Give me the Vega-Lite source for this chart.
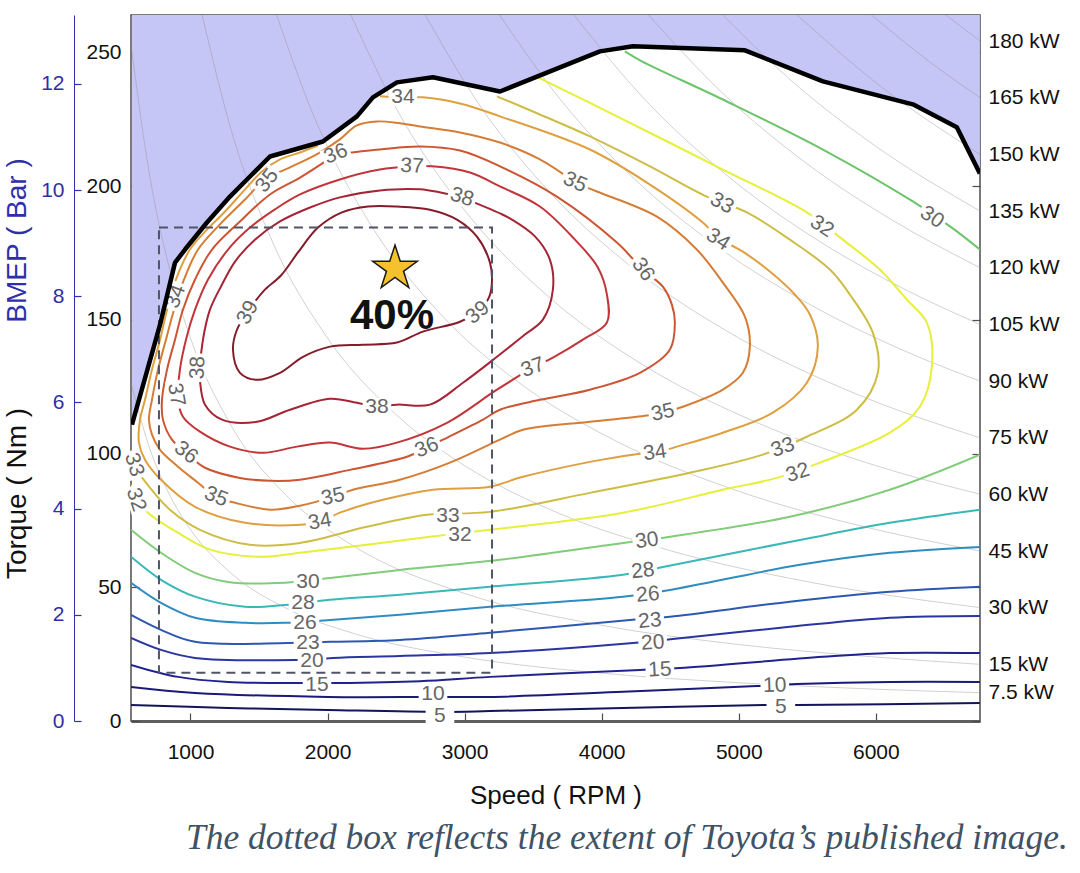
{
  "$schema": "https://vega.github.io/schema/vega-lite/v6.json",
  "width": 849,
  "height": 706,
  "autosize": {"type": "none"},
  "padding": {"left": 131, "top": 15, "right": 100, "bottom": 152},
  "background": "white",
  "config": {
    "font": "Liberation Sans",
    "view": {"stroke": "#4d4d4d", "strokeWidth": 1.5},
    "axis": {"labelFont": "Liberation Sans", "titleFont": "Liberation Sans", "labelFontSize": 21, "titleFontSize": 28, "labelColor": "#111111", "titleColor": "#111111", "titleFontWeight": "normal", "grid": false, "domain": false, "tickColor": "#4d4d4d", "tickWidth": 1.2, "zindex": 1}
  },
  "title": {"text": "The dotted box reflects the extent of Toyota’s published image.", "orient": "bottom", "anchor": "end", "frame": "group", "font": "Liberation Serif", "fontStyle": "italic", "fontWeight": "normal", "fontSize": 35.5, "color": "#3f5266", "offset": 13, "dx": 88},
  "datasets": {
    "maxtorque": [
      {"rpm": 573, "torque": 110.8}, {"rpm": 778, "torque": 148.2}, {"rpm": 887, "torque": 171.4}, {"rpm": 960, "torque": 176.3},
      {"rpm": 1120, "torque": 186.4}, {"rpm": 1288, "torque": 196.1}, {"rpm": 1434, "torque": 203.6}, {"rpm": 1580, "torque": 211.1},
      {"rpm": 1966, "torque": 216.7}, {"rpm": 2214, "torque": 226.1}, {"rpm": 2331, "torque": 233.2}, {"rpm": 2506, "torque": 238.8},
      {"rpm": 2769, "torque": 240.7}, {"rpm": 3258, "torque": 235.4}, {"rpm": 3987, "torque": 250.4}, {"rpm": 4228, "torque": 252.3},
      {"rpm": 5045, "torque": 250.8}, {"rpm": 5614, "torque": 239.2}, {"rpm": 6270, "torque": 230.6}, {"rpm": 6591, "torque": 222.0},
      {"rpm": 6759, "torque": 204.7}
    ],
    "isopower": [
      {"kw": 7.5, "rpm": 570, "torque": 125.6}, {"kw": 7.5, "rpm": 700, "torque": 102.3}, {"kw": 7.5, "rpm": 850, "torque": 84.3}, {"kw": 7.5, "rpm": 1000, "torque": 71.6}, {"kw": 7.5, "rpm": 1300, "torque": 55.1}, {"kw": 7.5, "rpm": 1700, "torque": 42.1}, {"kw": 7.5, "rpm": 2200, "torque": 32.6}, {"kw": 7.5, "rpm": 3000, "torque": 23.9}, {"kw": 7.5, "rpm": 4000, "torque": 17.9}, {"kw": 7.5, "rpm": 5000, "torque": 14.3}, {"kw": 7.5, "rpm": 6000, "torque": 11.9}, {"kw": 7.5, "rpm": 6760, "torque": 10.6},
      {"kw": 15, "rpm": 570, "torque": 251.3}, {"kw": 15, "rpm": 700, "torque": 204.6}, {"kw": 15, "rpm": 850, "torque": 168.5}, {"kw": 15, "rpm": 1000, "torque": 143.2}, {"kw": 15, "rpm": 1300, "torque": 110.2}, {"kw": 15, "rpm": 1700, "torque": 84.3}, {"kw": 15, "rpm": 2200, "torque": 65.1}, {"kw": 15, "rpm": 3000, "torque": 47.7}, {"kw": 15, "rpm": 4000, "torque": 35.8}, {"kw": 15, "rpm": 5000, "torque": 28.6}, {"kw": 15, "rpm": 6000, "torque": 23.9}, {"kw": 15, "rpm": 6760, "torque": 21.2},
      {"kw": 30, "rpm": 1085, "torque": 264.0}, {"kw": 30, "rpm": 1300, "torque": 220.4}, {"kw": 30, "rpm": 1600, "torque": 179.0}, {"kw": 30, "rpm": 2000, "torque": 143.2}, {"kw": 30, "rpm": 2500, "torque": 114.6}, {"kw": 30, "rpm": 3000, "torque": 95.5}, {"kw": 30, "rpm": 3700, "torque": 77.4}, {"kw": 30, "rpm": 4500, "torque": 63.7}, {"kw": 30, "rpm": 5500, "torque": 52.1}, {"kw": 30, "rpm": 6760, "torque": 42.4},
      {"kw": 45, "rpm": 1628, "torque": 264.0}, {"kw": 45, "rpm": 1900, "torque": 226.2}, {"kw": 45, "rpm": 2300, "torque": 186.8}, {"kw": 45, "rpm": 2800, "torque": 153.5}, {"kw": 45, "rpm": 3400, "torque": 126.4}, {"kw": 45, "rpm": 4100, "torque": 104.8}, {"kw": 45, "rpm": 5000, "torque": 85.9}, {"kw": 45, "rpm": 6000, "torque": 71.6}, {"kw": 45, "rpm": 6760, "torque": 63.6},
      {"kw": 60, "rpm": 2170, "torque": 264.0}, {"kw": 60, "rpm": 2500, "torque": 229.2}, {"kw": 60, "rpm": 3000, "torque": 191.0}, {"kw": 60, "rpm": 3600, "torque": 159.2}, {"kw": 60, "rpm": 4300, "torque": 133.2}, {"kw": 60, "rpm": 5100, "torque": 112.3}, {"kw": 60, "rpm": 6000, "torque": 95.5}, {"kw": 60, "rpm": 6760, "torque": 84.8},
      {"kw": 75, "rpm": 2713, "torque": 264.0}, {"kw": 75, "rpm": 3100, "torque": 231.0}, {"kw": 75, "rpm": 3600, "torque": 198.9}, {"kw": 75, "rpm": 4200, "torque": 170.5}, {"kw": 75, "rpm": 4900, "torque": 146.2}, {"kw": 75, "rpm": 5800, "torque": 123.5}, {"kw": 75, "rpm": 6760, "torque": 105.9},
      {"kw": 90, "rpm": 3255, "torque": 264.0}, {"kw": 90, "rpm": 3700, "torque": 232.3}, {"kw": 90, "rpm": 4200, "torque": 204.6}, {"kw": 90, "rpm": 4800, "torque": 179.0}, {"kw": 90, "rpm": 5500, "torque": 156.3}, {"kw": 90, "rpm": 6200, "torque": 138.6}, {"kw": 90, "rpm": 6760, "torque": 127.1},
      {"kw": 105, "rpm": 3798, "torque": 264.0}, {"kw": 105, "rpm": 4300, "torque": 233.2}, {"kw": 105, "rpm": 4900, "torque": 204.6}, {"kw": 105, "rpm": 5600, "torque": 179.0}, {"kw": 105, "rpm": 6200, "torque": 161.7}, {"kw": 105, "rpm": 6760, "torque": 148.3},
      {"kw": 120, "rpm": 4341, "torque": 264.0}, {"kw": 120, "rpm": 4900, "torque": 233.9}, {"kw": 120, "rpm": 5500, "torque": 208.3}, {"kw": 120, "rpm": 6100, "torque": 187.9}, {"kw": 120, "rpm": 6760, "torque": 169.5},
      {"kw": 135, "rpm": 4883, "torque": 264.0}, {"kw": 135, "rpm": 5400, "torque": 238.7}, {"kw": 135, "rpm": 6000, "torque": 214.9}, {"kw": 135, "rpm": 6760, "torque": 190.7},
      {"kw": 150, "rpm": 5426, "torque": 264.0}, {"kw": 150, "rpm": 6000, "torque": 238.7}, {"kw": 150, "rpm": 6760, "torque": 211.9},
      {"kw": 165, "rpm": 5968, "torque": 264.0}, {"kw": 165, "rpm": 6400, "torque": 246.2}, {"kw": 165, "rpm": 6760, "torque": 233.1},
      {"kw": 180, "rpm": 6511, "torque": 264.0}, {"kw": 180, "rpm": 6760, "torque": 254.3}
    ],
    "contours": [
      {"level": 5, "rpm": 566, "torque": 6.0}, {"level": 5, "rpm": 1274, "torque": 4.9}, {"level": 5, "rpm": 2003, "torque": 4.1}, {"level": 5, "rpm": 2820, "torque": 3.4}, {"level": 5, "rpm": 3185, "torque": 3.7}, {"level": 5, "rpm": 4155, "torque": 4.9}, {"level": 5, "rpm": 5205, "torque": 6.0}, {"level": 5, "rpm": 5424, "torque": 6.0}, {"level": 5, "rpm": 6759, "torque": 6.7},
      {"level": 10, "rpm": 566, "torque": 12.7}, {"level": 10, "rpm": 1033, "torque": 10.5}, {"level": 10, "rpm": 2003, "torque": 9.0}, {"level": 10, "rpm": 2762, "torque": 9.0}, {"level": 10, "rpm": 3185, "torque": 9.0}, {"level": 10, "rpm": 4155, "torque": 10.9}, {"level": 10, "rpm": 5132, "torque": 13.1}, {"level": 10, "rpm": 5424, "torque": 13.8}, {"level": 10, "rpm": 6102, "torque": 14.6}, {"level": 10, "rpm": 6759, "torque": 14.6},
      {"level": 15, "rpm": 566, "torque": 21.0}, {"level": 15, "rpm": 909, "torque": 16.5}, {"level": 15, "rpm": 1274, "torque": 14.6}, {"level": 15, "rpm": 1806, "torque": 14.2}, {"level": 15, "rpm": 2069, "torque": 14.2}, {"level": 15, "rpm": 2674, "torque": 14.9}, {"level": 15, "rpm": 3185, "torque": 16.5}, {"level": 15, "rpm": 4279, "torque": 19.1}, {"level": 15, "rpm": 4570, "torque": 19.8}, {"level": 15, "rpm": 5614, "torque": 24.0}, {"level": 15, "rpm": 6102, "torque": 25.4}, {"level": 15, "rpm": 6759, "torque": 25.4},
      {"level": 20, "rpm": 566, "torque": 31.1}, {"level": 20, "rpm": 785, "torque": 26.6}, {"level": 20, "rpm": 1033, "torque": 23.6}, {"level": 20, "rpm": 1762, "torque": 22.8}, {"level": 20, "rpm": 2039, "torque": 23.6}, {"level": 20, "rpm": 2528, "torque": 24.3}, {"level": 20, "rpm": 3185, "torque": 25.4}, {"level": 20, "rpm": 4228, "torque": 29.2}, {"level": 20, "rpm": 4519, "torque": 30.7}, {"level": 20, "rpm": 5373, "torque": 35.2}, {"level": 20, "rpm": 6102, "torque": 38.6}, {"level": 20, "rpm": 6759, "torque": 39.3},
      {"level": 23, "rpm": 566, "torque": 39.7}, {"level": 23, "rpm": 785, "torque": 34.1}, {"level": 23, "rpm": 1033, "torque": 29.6}, {"level": 23, "rpm": 1711, "torque": 29.2}, {"level": 23, "rpm": 2018, "torque": 29.6}, {"level": 23, "rpm": 2528, "torque": 30.3}, {"level": 23, "rpm": 3185, "torque": 33.0}, {"level": 23, "rpm": 4206, "torque": 37.8}, {"level": 23, "rpm": 4498, "torque": 39.0}, {"level": 23, "rpm": 5373, "torque": 44.6}, {"level": 23, "rpm": 6102, "torque": 48.3}, {"level": 23, "rpm": 6759, "torque": 50.2},
      {"level": 26, "rpm": 566, "torque": 51.7}, {"level": 26, "rpm": 785, "torque": 44.2}, {"level": 26, "rpm": 1033, "torque": 38.6}, {"level": 26, "rpm": 1398, "torque": 36.7}, {"level": 26, "rpm": 1689, "torque": 36.7}, {"level": 26, "rpm": 2018, "torque": 37.8}, {"level": 26, "rpm": 2528, "torque": 39.7}, {"level": 26, "rpm": 3185, "torque": 42.7}, {"level": 26, "rpm": 4155, "torque": 46.5}, {"level": 26, "rpm": 4498, "torque": 49.0}, {"level": 26, "rpm": 5446, "torque": 58.4}, {"level": 26, "rpm": 6102, "torque": 62.9}, {"level": 26, "rpm": 6759, "torque": 65.1},
      {"level": 28, "rpm": 566, "torque": 61.4}, {"level": 28, "rpm": 785, "torque": 52.8}, {"level": 28, "rpm": 1033, "torque": 46.5}, {"level": 28, "rpm": 1398, "torque": 42.7}, {"level": 28, "rpm": 1689, "torque": 43.4}, {"level": 28, "rpm": 2018, "torque": 45.3}, {"level": 28, "rpm": 2528, "torque": 47.2}, {"level": 28, "rpm": 3185, "torque": 50.2}, {"level": 28, "rpm": 4155, "torque": 54.7}, {"level": 28, "rpm": 4446, "torque": 57.6}, {"level": 28, "rpm": 5446, "torque": 67.7}, {"level": 28, "rpm": 6102, "torque": 74.1}, {"level": 28, "rpm": 6759, "torque": 79.0},
      {"level": 30, "rpm": 566, "torque": 71.5}, {"level": 30, "rpm": 785, "torque": 62.9}, {"level": 30, "rpm": 1033, "torque": 55.4}, {"level": 30, "rpm": 1274, "torque": 52.0}, {"level": 30, "rpm": 1689, "torque": 51.7}, {"level": 30, "rpm": 2018, "torque": 53.5}, {"level": 30, "rpm": 2528, "torque": 56.5}, {"level": 30, "rpm": 3258, "torque": 60.3}, {"level": 30, "rpm": 4155, "torque": 66.6}, {"level": 30, "rpm": 4498, "torque": 68.9}, {"level": 30, "rpm": 5373, "torque": 76.4}, {"level": 30, "rpm": 6102, "torque": 86.5}, {"level": 30, "rpm": 6759, "torque": 99.6},
      {"level": 32, "rpm": 3535, "torque": 240.7}, {"level": 32, "rpm": 4155, "torque": 225.0}, {"level": 32, "rpm": 4884, "torque": 206.2}, {"level": 32, "rpm": 5497, "torque": 190.2}, {"level": 32, "rpm": 5759, "torque": 180.0}, {"level": 32, "rpm": 6029, "torque": 168.8}, {"level": 32, "rpm": 6226, "torque": 157.6}, {"level": 32, "rpm": 6372, "torque": 149.0}, {"level": 32, "rpm": 6409, "torque": 132.5}, {"level": 32, "rpm": 6321, "torque": 117.5}, {"level": 32, "rpm": 6102, "torque": 107.8}, {"level": 32, "rpm": 5592, "torque": 96.6}, {"level": 32, "rpm": 5278, "torque": 90.9}, {"level": 32, "rpm": 4884, "torque": 86.5}, {"level": 32, "rpm": 4155, "torque": 77.9}, {"level": 32, "rpm": 3185, "torque": 71.5}, {"level": 32, "rpm": 2747, "torque": 68.9}, {"level": 32, "rpm": 2287, "torque": 65.9}, {"level": 32, "rpm": 1799, "torque": 62.9}, {"level": 32, "rpm": 1514, "torque": 61.4}, {"level": 32, "rpm": 1150, "torque": 64.0}, {"level": 32, "rpm": 909, "torque": 70.4}, {"level": 32, "rpm": 690, "torque": 77.9}, {"level": 32, "rpm": 617, "torque": 82.7}, {"level": 32, "rpm": 566, "torque": 88.3},
      {"level": 33, "rpm": 3236, "torque": 233.6}, {"level": 33, "rpm": 3549, "torque": 226.8}, {"level": 33, "rpm": 3914, "torque": 218.6}, {"level": 33, "rpm": 4352, "torque": 207.4}, {"level": 33, "rpm": 4767, "torque": 196.1}, {"level": 33, "rpm": 5059, "torque": 190.2}, {"level": 33, "rpm": 5373, "torque": 180.0}, {"level": 33, "rpm": 5665, "torque": 168.8}, {"level": 33, "rpm": 5810, "torque": 159.5}, {"level": 33, "rpm": 5978, "torque": 145.2}, {"level": 33, "rpm": 6015, "torque": 130.2}, {"level": 33, "rpm": 5862, "torque": 116.4}, {"level": 33, "rpm": 5497, "torque": 106.3}, {"level": 33, "rpm": 5176, "torque": 99.6}, {"level": 33, "rpm": 4643, "torque": 92.8}, {"level": 33, "rpm": 3914, "torque": 85.3}, {"level": 33, "rpm": 3185, "torque": 78.2}, {"level": 33, "rpm": 2725, "torque": 77.1}, {"level": 33, "rpm": 2287, "torque": 72.6}, {"level": 33, "rpm": 1799, "torque": 66.6}, {"level": 33, "rpm": 1434, "torque": 65.9}, {"level": 33, "rpm": 1069, "torque": 71.5}, {"level": 33, "rpm": 850, "torque": 79.0}, {"level": 33, "rpm": 705, "torque": 87.2}, {"level": 33, "rpm": 595, "torque": 95.1}, {"level": 33, "rpm": 566, "torque": 99.6},
      {"level": 34, "rpm": 2382, "torque": 233.6}, {"level": 34, "rpm": 2550, "torque": 233.2}, {"level": 34, "rpm": 2696, "torque": 233.2}, {"level": 34, "rpm": 2966, "torque": 230.9}, {"level": 34, "rpm": 3258, "torque": 226.1}, {"level": 34, "rpm": 3914, "torque": 213.7}, {"level": 34, "rpm": 4352, "torque": 200.6}, {"level": 34, "rpm": 4738, "torque": 186.4}, {"level": 34, "rpm": 4848, "torque": 180.8}, {"level": 34, "rpm": 5030, "torque": 175.5}, {"level": 34, "rpm": 5227, "torque": 168.1}, {"level": 34, "rpm": 5409, "torque": 159.5}, {"level": 34, "rpm": 5519, "torque": 152.0}, {"level": 34, "rpm": 5577, "torque": 140.0}, {"level": 34, "rpm": 5497, "torque": 126.5}, {"level": 34, "rpm": 5249, "torque": 115.3}, {"level": 34, "rpm": 4884, "torque": 107.8}, {"level": 34, "rpm": 4549, "torque": 102.6}, {"level": 34, "rpm": 4388, "torque": 100.3}, {"level": 34, "rpm": 4228, "torque": 99.6}, {"level": 34, "rpm": 3914, "torque": 96.9}, {"level": 34, "rpm": 3425, "torque": 91.3}, {"level": 34, "rpm": 3185, "torque": 87.6}, {"level": 34, "rpm": 2769, "torque": 86.5}, {"level": 34, "rpm": 2404, "torque": 82.7}, {"level": 34, "rpm": 2090, "torque": 77.9}, {"level": 34, "rpm": 1945, "torque": 74.5}, {"level": 34, "rpm": 1806, "torque": 73.4}, {"level": 34, "rpm": 1398, "torque": 74.1}, {"level": 34, "rpm": 1033, "torque": 80.1}, {"level": 34, "rpm": 785, "torque": 90.2}, {"level": 34, "rpm": 668, "torque": 97.7}, {"level": 34, "rpm": 624, "torque": 104.1}, {"level": 34, "rpm": 632, "torque": 112.7}, {"level": 34, "rpm": 668, "torque": 120.1}, {"level": 34, "rpm": 719, "torque": 131.4}, {"level": 34, "rpm": 778, "torque": 142.6}, {"level": 34, "rpm": 829, "torque": 153.8}, {"level": 34, "rpm": 894, "torque": 165.1}, {"level": 34, "rpm": 996, "torque": 176.3}, {"level": 34, "rpm": 1106, "torque": 183.0}, {"level": 34, "rpm": 1252, "torque": 190.5}, {"level": 34, "rpm": 1398, "torque": 198.8}, {"level": 34, "rpm": 1522, "torque": 205.5}, {"level": 34, "rpm": 1653, "torque": 210.0}, {"level": 34, "rpm": 1799, "torque": 212.6}, {"level": 34, "rpm": 1930, "torque": 215.2},
      {"level": 35, "rpm": 3805, "torque": 201.4}, {"level": 35, "rpm": 3965, "torque": 198.0}, {"level": 35, "rpm": 4403, "torque": 188.6}, {"level": 35, "rpm": 4694, "torque": 176.3}, {"level": 35, "rpm": 4884, "torque": 163.9}, {"level": 35, "rpm": 5045, "torque": 151.2}, {"level": 35, "rpm": 5081, "torque": 140.0}, {"level": 35, "rpm": 5030, "torque": 130.2}, {"level": 35, "rpm": 4884, "torque": 123.9}, {"level": 35, "rpm": 4592, "torque": 117.5}, {"level": 35, "rpm": 4446, "torque": 115.3}, {"level": 35, "rpm": 4330, "torque": 114.2}, {"level": 35, "rpm": 3914, "torque": 111.9}, {"level": 35, "rpm": 3425, "torque": 108.9}, {"level": 35, "rpm": 3258, "torque": 105.2}, {"level": 35, "rpm": 2893, "torque": 96.6}, {"level": 35, "rpm": 2528, "torque": 90.2}, {"level": 35, "rpm": 2185, "torque": 86.5}, {"level": 35, "rpm": 2039, "torque": 83.8}, {"level": 35, "rpm": 1799, "torque": 80.5}, {"level": 35, "rpm": 1587, "torque": 79.0}, {"level": 35, "rpm": 1325, "torque": 81.6}, {"level": 35, "rpm": 1186, "torque": 83.8}, {"level": 35, "rpm": 1055, "torque": 89.1}, {"level": 35, "rpm": 909, "torque": 95.1}, {"level": 35, "rpm": 778, "torque": 101.4}, {"level": 35, "rpm": 719, "torque": 107.1}, {"level": 35, "rpm": 697, "torque": 112.7}, {"level": 35, "rpm": 719, "torque": 120.1}, {"level": 35, "rpm": 763, "torque": 131.4}, {"level": 35, "rpm": 821, "torque": 142.6}, {"level": 35, "rpm": 880, "torque": 153.8}, {"level": 35, "rpm": 953, "torque": 165.1}, {"level": 35, "rpm": 1055, "torque": 176.3}, {"level": 35, "rpm": 1215, "torque": 185.7}, {"level": 35, "rpm": 1398, "torque": 195.0}, {"level": 35, "rpm": 1543, "torque": 202.5}, {"level": 35, "rpm": 1726, "torque": 207.0}, {"level": 35, "rpm": 1930, "torque": 212.2}, {"level": 35, "rpm": 2090, "torque": 217.5}, {"level": 35, "rpm": 2214, "torque": 222.7}, {"level": 35, "rpm": 2360, "torque": 224.2}, {"level": 35, "rpm": 2528, "torque": 223.5}, {"level": 35, "rpm": 2674, "torque": 222.3}, {"level": 35, "rpm": 2966, "torque": 220.1}, {"level": 35, "rpm": 3258, "torque": 216.3}, {"level": 35, "rpm": 3549, "torque": 210.0}, {"level": 35, "rpm": 3805, "torque": 201.4},
      {"level": 36, "rpm": 2061, "torque": 211.9}, {"level": 36, "rpm": 2382, "torque": 213.7}, {"level": 36, "rpm": 2674, "torque": 214.8}, {"level": 36, "rpm": 2966, "torque": 213.3}, {"level": 36, "rpm": 3258, "torque": 207.4}, {"level": 36, "rpm": 3673, "torque": 196.1}, {"level": 36, "rpm": 4111, "torque": 178.9}, {"level": 36, "rpm": 4301, "torque": 168.8}, {"level": 36, "rpm": 4446, "torque": 162.4}, {"level": 36, "rpm": 4512, "torque": 155.7}, {"level": 36, "rpm": 4534, "torque": 149.0}, {"level": 36, "rpm": 4498, "torque": 138.9}, {"level": 36, "rpm": 4279, "torque": 130.2}, {"level": 36, "rpm": 3914, "torque": 123.9}, {"level": 36, "rpm": 3549, "torque": 120.1}, {"level": 36, "rpm": 3258, "torque": 116.4}, {"level": 36, "rpm": 3134, "torque": 112.7}, {"level": 36, "rpm": 2842, "torque": 105.2}, {"level": 36, "rpm": 2725, "torque": 102.2}, {"level": 36, "rpm": 2579, "torque": 98.8}, {"level": 36, "rpm": 2163, "torque": 93.9}, {"level": 36, "rpm": 1799, "torque": 90.2}, {"level": 36, "rpm": 1580, "torque": 89.8}, {"level": 36, "rpm": 1361, "torque": 90.9}, {"level": 36, "rpm": 1106, "torque": 94.7}, {"level": 36, "rpm": 967, "torque": 100.3}, {"level": 36, "rpm": 865, "torque": 105.2}, {"level": 36, "rpm": 799, "torque": 112.7}, {"level": 36, "rpm": 792, "torque": 120.1}, {"level": 36, "rpm": 829, "torque": 131.4}, {"level": 36, "rpm": 887, "torque": 142.6}, {"level": 36, "rpm": 945, "torque": 153.8}, {"level": 36, "rpm": 1033, "torque": 165.1}, {"level": 36, "rpm": 1157, "torque": 176.3}, {"level": 36, "rpm": 1361, "torque": 186.8}, {"level": 36, "rpm": 1580, "torque": 196.9}, {"level": 36, "rpm": 1799, "torque": 203.2}, {"level": 36, "rpm": 2061, "torque": 211.9},
      {"level": 37, "rpm": 2616, "torque": 207.4}, {"level": 37, "rpm": 2762, "torque": 207.4}, {"level": 37, "rpm": 3039, "torque": 205.1}, {"level": 37, "rpm": 3258, "torque": 199.9}, {"level": 37, "rpm": 3549, "torque": 192.4}, {"level": 37, "rpm": 3805, "torque": 180.0}, {"level": 37, "rpm": 3972, "torque": 169.6}, {"level": 37, "rpm": 4038, "torque": 159.5}, {"level": 37, "rpm": 4038, "torque": 149.0}, {"level": 37, "rpm": 3863, "torque": 142.6}, {"level": 37, "rpm": 3644, "torque": 135.9}, {"level": 37, "rpm": 3498, "torque": 132.1}, {"level": 37, "rpm": 3236, "torque": 123.9}, {"level": 37, "rpm": 2871, "torque": 111.5}, {"level": 37, "rpm": 2506, "torque": 104.1}, {"level": 37, "rpm": 2258, "torque": 101.8}, {"level": 37, "rpm": 2018, "torque": 104.1}, {"level": 37, "rpm": 1777, "torque": 102.6}, {"level": 37, "rpm": 1529, "torque": 100.3}, {"level": 37, "rpm": 1288, "torque": 102.6}, {"level": 37, "rpm": 1069, "torque": 108.2}, {"level": 37, "rpm": 945, "torque": 113.8}, {"level": 37, "rpm": 909, "torque": 120.1}, {"level": 37, "rpm": 923, "torque": 131.4}, {"level": 37, "rpm": 967, "torque": 142.6}, {"level": 37, "rpm": 1033, "torque": 153.8}, {"level": 37, "rpm": 1128, "torque": 165.1}, {"level": 37, "rpm": 1274, "torque": 176.3}, {"level": 37, "rpm": 1434, "torque": 184.5}, {"level": 37, "rpm": 1616, "torque": 191.3}, {"level": 37, "rpm": 1799, "torque": 196.9}, {"level": 37, "rpm": 2090, "torque": 202.5}, {"level": 37, "rpm": 2382, "torque": 206.2}, {"level": 37, "rpm": 2616, "torque": 207.4},
      {"level": 38, "rpm": 2980, "torque": 195.8}, {"level": 38, "rpm": 3258, "torque": 189.8}, {"level": 38, "rpm": 3345, "torque": 187.5}, {"level": 38, "rpm": 3513, "torque": 181.2}, {"level": 38, "rpm": 3622, "torque": 172.5}, {"level": 38, "rpm": 3644, "torque": 161.3}, {"level": 38, "rpm": 3571, "torque": 150.1}, {"level": 38, "rpm": 3440, "torque": 144.5}, {"level": 38, "rpm": 3236, "torque": 136.2}, {"level": 38, "rpm": 2988, "torque": 126.5}, {"level": 38, "rpm": 2747, "torque": 118.3}, {"level": 38, "rpm": 2506, "torque": 118.3}, {"level": 38, "rpm": 2360, "torque": 117.5}, {"level": 38, "rpm": 2214, "torque": 119.0}, {"level": 38, "rpm": 2018, "torque": 120.5}, {"level": 38, "rpm": 1726, "torque": 116.4}, {"level": 38, "rpm": 1485, "torque": 111.9}, {"level": 38, "rpm": 1230, "torque": 112.7}, {"level": 38, "rpm": 1106, "torque": 118.3}, {"level": 38, "rpm": 1069, "torque": 127.6}, {"level": 38, "rpm": 1069, "torque": 132.1}, {"level": 38, "rpm": 1091, "torque": 142.6}, {"level": 38, "rpm": 1142, "torque": 153.8}, {"level": 38, "rpm": 1230, "torque": 163.2}, {"level": 38, "rpm": 1325, "torque": 171.8}, {"level": 38, "rpm": 1470, "torque": 180.0}, {"level": 38, "rpm": 1653, "torque": 186.8}, {"level": 38, "rpm": 1872, "torque": 192.0}, {"level": 38, "rpm": 2090, "torque": 195.8}, {"level": 38, "rpm": 2382, "torque": 198.4}, {"level": 38, "rpm": 2674, "torque": 198.8}, {"level": 38, "rpm": 2980, "torque": 195.8},
      {"level": 39, "rpm": 1470, "torque": 156.8}, {"level": 39, "rpm": 1543, "torque": 161.3}, {"level": 39, "rpm": 1660, "torque": 166.6}, {"level": 39, "rpm": 1784, "torque": 175.2}, {"level": 39, "rpm": 1930, "torque": 184.5}, {"level": 39, "rpm": 2105, "torque": 190.2}, {"level": 39, "rpm": 2295, "torque": 192.4}, {"level": 39, "rpm": 2506, "torque": 192.4}, {"level": 39, "rpm": 2747, "torque": 191.2}, {"level": 39, "rpm": 2944, "torque": 187.5}, {"level": 39, "rpm": 3090, "torque": 181.1}, {"level": 39, "rpm": 3185, "torque": 171.4}, {"level": 39, "rpm": 3199, "torque": 163.9}, {"level": 39, "rpm": 3177, "torque": 158.3}, {"level": 39, "rpm": 3097, "torque": 153.1}, {"level": 39, "rpm": 2966, "torque": 149.3}, {"level": 39, "rpm": 2696, "torque": 145.6}, {"level": 39, "rpm": 2506, "torque": 141.5}, {"level": 39, "rpm": 2258, "torque": 140.7}, {"level": 39, "rpm": 2018, "torque": 140.0}, {"level": 39, "rpm": 1821, "torque": 136.2}, {"level": 39, "rpm": 1653, "torque": 130.2}, {"level": 39, "rpm": 1485, "torque": 127.6}, {"level": 39, "rpm": 1361, "torque": 130.2}, {"level": 39, "rpm": 1310, "torque": 138.8}, {"level": 39, "rpm": 1339, "torque": 146.3}, {"level": 39, "rpm": 1419, "torque": 153.1}, {"level": 39, "rpm": 1470, "torque": 156.8}
    ],
    "contour30top": [
      {"level": 30, "rpm": 4169, "torque": 250.4}, {"level": 30, "rpm": 4293, "torque": 246.7}, {"level": 30, "rpm": 4884, "torque": 232.4}, {"level": 30, "rpm": 5614, "torque": 213.7}, {"level": 30, "rpm": 6270, "torque": 194.3}, {"level": 30, "rpm": 6554, "torque": 184.5}, {"level": 30, "rpm": 6759, "torque": 176.3}
    ],
    "labels": [
      {"level": 5, "rpm": 2820, "torque": 1.8, "angle": 0}, {"level": 5, "rpm": 5307, "torque": 5.4, "angle": 0},
      {"level": 10, "rpm": 2769, "torque": 10.0, "angle": 0}, {"level": 10, "rpm": 5263, "torque": 13.2, "angle": -2},
      {"level": 15, "rpm": 1923, "torque": 13.6, "angle": 0}, {"level": 15, "rpm": 4425, "torque": 19.1, "angle": -3},
      {"level": 20, "rpm": 1886, "torque": 22.3, "angle": 0}, {"level": 20, "rpm": 4373, "torque": 29.2, "angle": -4},
      {"level": 23, "rpm": 1857, "torque": 29.2, "angle": 0}, {"level": 23, "rpm": 4352, "torque": 37.4, "angle": -5},
      {"level": 26, "rpm": 1835, "torque": 36.7, "angle": 0}, {"level": 26, "rpm": 4337, "torque": 47.2, "angle": -5},
      {"level": 28, "rpm": 1821, "torque": 44.0, "angle": 0}, {"level": 28, "rpm": 4301, "torque": 56.1, "angle": -6},
      {"level": 30, "rpm": 1857, "torque": 51.9, "angle": 0}, {"level": 30, "rpm": 4330, "torque": 67.4, "angle": -8}, {"level": 30, "rpm": 6409, "torque": 188.3, "angle": 33},
      {"level": 32, "rpm": 5606, "torque": 184.9, "angle": 33}, {"level": 32, "rpm": 5431, "torque": 92.8, "angle": -18}, {"level": 32, "rpm": 2966, "torque": 69.6, "angle": 0}, {"level": 32, "rpm": 602, "torque": 82.7, "angle": 72},
      {"level": 33, "rpm": 4877, "torque": 193.5, "angle": 28}, {"level": 33, "rpm": 5322, "torque": 102.2, "angle": -20}, {"level": 33, "rpm": 2878, "torque": 76.6, "angle": 0}, {"level": 33, "rpm": 588, "torque": 95.8, "angle": 72},
      {"level": 34, "rpm": 2550, "torque": 233.2, "angle": 0}, {"level": 34, "rpm": 4848, "torque": 180.0, "angle": 33}, {"level": 34, "rpm": 4388, "torque": 100.3, "angle": -8}, {"level": 34, "rpm": 1945, "torque": 74.5, "angle": -10}, {"level": 34, "rpm": 894, "torque": 158.7, "angle": -70},
      {"level": 35, "rpm": 3805, "torque": 201.4, "angle": 25}, {"level": 35, "rpm": 4446, "torque": 115.3, "angle": -12}, {"level": 35, "rpm": 2039, "torque": 83.8, "angle": -12}, {"level": 35, "rpm": 1186, "torque": 83.8, "angle": 22}, {"level": 35, "rpm": 1560, "torque": 202.0, "angle": -52},
      {"level": 36, "rpm": 2061, "torque": 212.0, "angle": -22}, {"level": 36, "rpm": 4301, "torque": 168.8, "angle": 55}, {"level": 36, "rpm": 2725, "torque": 102.2, "angle": -22}, {"level": 36, "rpm": 967, "torque": 100.3, "angle": 38},
      {"level": 37, "rpm": 2616, "torque": 207.4, "angle": 3}, {"level": 37, "rpm": 3498, "torque": 132.1, "angle": -20}, {"level": 37, "rpm": 894, "torque": 122.0, "angle": 80},
      {"level": 38, "rpm": 2980, "torque": 195.8, "angle": 18}, {"level": 38, "rpm": 2360, "torque": 117.5, "angle": 0}, {"level": 38, "rpm": 1055, "torque": 132.1, "angle": -88},
      {"level": 39, "rpm": 1419, "torque": 152.7, "angle": -62}, {"level": 39, "rpm": 3097, "torque": 152.7, "angle": -40}
    ]
  },
  "resolve": {"axis": {"x": "independent", "y": "independent"}},
  "layer": [
    {
      "data": {"name": "maxtorque"},
      "mark": {"type": "area", "color": "#c6c6f6", "clip": true},
      "encoding": {
        "x": {"field": "rpm", "type": "quantitative", "scale": {"domain": [566, 6760], "nice": false, "zero": false},
              "axis": {"orient": "bottom", "values": [1000, 2000, 3000, 4000, 5000, 6000], "format": "d", "title": "Speed ( RPM )", "tickSize": -8, "labelPadding": 28, "domain": true, "domainColor": "#5e5e5e", "domainWidth": 3, "titleFontSize": 26, "titleY": 74, "titleBaseline": "middle"}},
        "y": {"field": "torque", "type": "quantitative", "scale": {"domain": [0, 264], "nice": false, "zero": false},
              "axis": {"orient": "left", "values": [0, 50, 100, 150, 200, 250], "title": "Torque ( Nm )", "tickSize": -8, "labelPadding": 18, "titleX": -114, "titleY": 478, "titleAlign": "center", "titleBaseline": "middle", "titleAngle": 270}},
        "y2": {"datum": 264}
      }
    },
    {
      "data": {"name": "isopower"},
      "mark": {"type": "line", "color": "#8c8c8c", "opacity": 0.4, "strokeWidth": 1, "interpolate": "monotone", "clip": true},
      "encoding": {
        "x": {"field": "rpm", "type": "quantitative", "scale": {"domain": [566, 6760], "nice": false, "zero": false},
              "axis": {"orient": "top", "values": [1000, 2000, 3000, 4000, 5000, 6000], "labels": false, "tickSize": -8, "title": null, "domain": false}},
        "y": {"field": "torque", "type": "quantitative", "scale": {"domain": [0, 264], "nice": false, "zero": false},
              "axis": {"orient": "left", "offset": 57, "values": [0, 39.7, 79.4, 119.1, 158.8, 198.5, 238.2], "labelExpr": "format(datum.value / 19.85, 'd')", "labelColor": "#2f2fa8", "domain": true, "domainColor": "#2f2fa8", "tickColor": "#2f2fa8", "tickSize": -7, "labelPadding": 17, "title": "BMEP ( Bar )", "titleColor": "#2f2fa8", "titleX": -57, "titleY": 225, "titleAlign": "center", "titleBaseline": "middle", "titleAngle": 270}},
        "detail": {"field": "kw", "type": "nominal"}
      }
    },
    {
      "data": {"name": "contours"},
      "mark": {"type": "line", "strokeWidth": 2, "interpolate": "catmull-rom", "clip": true},
      "encoding": {
        "x": {"field": "rpm", "type": "quantitative", "scale": {"domain": [566, 6760], "nice": false, "zero": false}, "axis": null},
        "y": {"field": "torque", "type": "quantitative", "scale": {"domain": [0, 264], "nice": false, "zero": false},
              "axis": {"orient": "right", "values": [10.594, 21.188, 42.377, 63.565, 84.754, 105.942, 127.13, 148.319, 169.507, 190.696, 211.884, 233.072, 254.261], "labelExpr": "datum.value < 15 ? '7.5 kW' : format(datum.value / 1.41256, 'd') + ' kW'", "ticks": false, "domain": false, "labelPadding": 8, "title": null}},
        "color": {"field": "level", "type": "nominal", "legend": null,
                  "scale": {"domain": [5, 10, 15, 20, 23, 26, 28, 30, 32, 33, 34, 35, 36, 37, 38, 39],
                            "range": ["#14145a", "#1a1a78", "#22228e", "#2a35a0", "#2d58b0", "#2f8cc0", "#3ab8b8", "#80cc78", "#e6ef3a", "#cdbd45", "#dea040", "#d67d35", "#cc5534", "#c2353a", "#a52435", "#851c2c"]}},
        "order": {"value": null}
      }
    },
    {
      "data": {"name": "contour30top"},
      "mark": {"type": "line", "strokeWidth": 2, "color": "#6cc46c", "interpolate": "catmull-rom", "clip": true},
      "encoding": {
        "x": {"field": "rpm", "type": "quantitative", "scale": {"domain": [566, 6760], "nice": false, "zero": false}, "axis": null},
        "y": {"field": "torque", "type": "quantitative", "scale": {"domain": [0, 264], "nice": false, "zero": false}, "axis": null},
        "order": {"value": null}
      }
    },
    {
      "data": {"name": "labels"},
      "mark": {"type": "point", "shape": "M-1,-0.6L1,-0.6L1,0.6L-1,0.6Z", "filled": true, "fill": "white", "opacity": 1, "size": 820, "strokeWidth": 0},
      "encoding": {
        "x": {"field": "rpm", "type": "quantitative", "scale": {"domain": [566, 6760], "nice": false, "zero": false}, "axis": null},
        "y": {"field": "torque", "type": "quantitative", "scale": {"domain": [0, 264], "nice": false, "zero": false}, "axis": null},
        "angle": {"field": "angle", "type": "quantitative", "scale": null}
      }
    },
    {
      "data": {"name": "labels"},
      "mark": {"type": "text", "font": "Liberation Sans", "fontWeight": "normal", "fontSize": 21, "fill": "#666666", "align": "center", "baseline": "middle"},
      "encoding": {
        "x": {"field": "rpm", "type": "quantitative", "scale": {"domain": [566, 6760], "nice": false, "zero": false}, "axis": null},
        "y": {"field": "torque", "type": "quantitative", "scale": {"domain": [0, 264], "nice": false, "zero": false}, "axis": null},
        "text": {"field": "level", "type": "nominal"},
        "angle": {"field": "angle", "type": "quantitative", "scale": null}
      }
    },
    {
      "data": {"values": [{"rpm1": 770, "rpm2": 3200, "t1": 18.0, "t2": 184.5}]},
      "mark": {"type": "rect", "fillOpacity": 0, "stroke": "#4f5566", "strokeWidth": 2, "strokeDash": [9, 6]},
      "encoding": {
        "x": {"field": "rpm1", "type": "quantitative", "scale": {"domain": [566, 6760], "nice": false, "zero": false}, "axis": null},
        "x2": {"field": "rpm2"},
        "y": {"field": "t1", "type": "quantitative", "scale": {"domain": [0, 264], "nice": false, "zero": false}, "axis": null},
        "y2": {"field": "t2"}
      }
    },
    {
      "data": {"name": "maxtorque"},
      "mark": {"type": "line", "color": "#000000", "strokeWidth": 4.5, "strokeJoin": "round", "clip": true},
      "encoding": {
        "x": {"field": "rpm", "type": "quantitative", "scale": {"domain": [566, 6760], "nice": false, "zero": false}, "axis": null},
        "y": {"field": "torque", "type": "quantitative", "scale": {"domain": [0, 264], "nice": false, "zero": false},
              "axis": {"orient": "right", "values": [0, 50, 100, 150, 200, 250], "labels": false, "tickSize": -8, "domain": false, "title": null}}
      }
    },
    {
      "data": {"values": [{"rpm": 2492, "torque": 169.2}]},
      "mark": {"type": "point", "shape": "M0,-1L0.2245,-0.309L0.951,-0.309L0.3633,0.118L0.5878,0.809L0,0.382L-0.5878,0.809L-0.3633,0.118L-0.951,-0.309L-0.2245,-0.309Z", "filled": true, "fill": "#f5c12e", "stroke": "#1a1a1a", "strokeWidth": 1.5, "size": 2200, "opacity": 1},
      "encoding": {
        "x": {"field": "rpm", "type": "quantitative", "scale": {"domain": [566, 6760], "nice": false, "zero": false}, "axis": null},
        "y": {"field": "torque", "type": "quantitative", "scale": {"domain": [0, 264], "nice": false, "zero": false}, "axis": null}
      }
    },
    {
      "data": {"values": [{"rpm": 2470, "torque": 151.6, "label": "40%"}]},
      "mark": {"type": "text", "font": "Liberation Sans", "fontWeight": "bold", "fontSize": 42, "color": "#111111", "align": "center", "baseline": "middle"},
      "encoding": {
        "x": {"field": "rpm", "type": "quantitative", "scale": {"domain": [566, 6760], "nice": false, "zero": false}, "axis": null},
        "y": {"field": "torque", "type": "quantitative", "scale": {"domain": [0, 264], "nice": false, "zero": false}, "axis": null},
        "text": {"field": "label", "type": "nominal"}
      }
    }
  ]
}
